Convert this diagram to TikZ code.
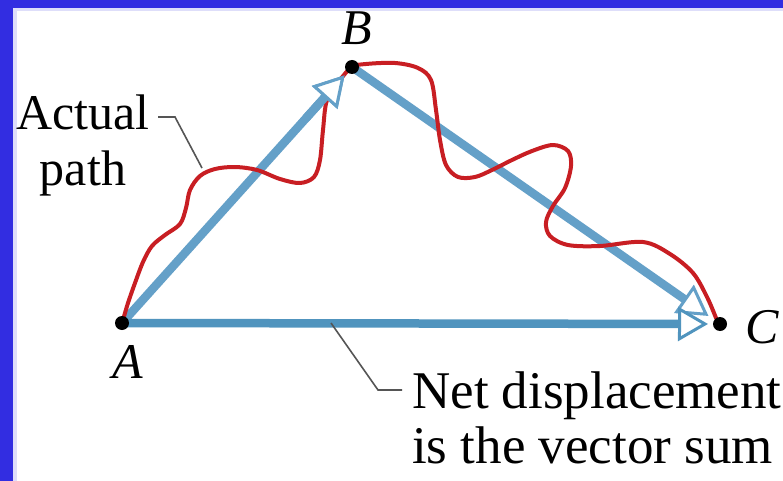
\documentclass[tikz,border=0pt]{standalone}
\usepackage{fontspec}
\setmainfont{Liberation Serif}
\usetikzlibrary{arrows.meta,calc}
\definecolor{vecblue}{RGB}{100,160,200}
\definecolor{vecbluedark}{RGB}{80,148,190}
\definecolor{pathred}{RGB}{200,30,35}
\definecolor{frameblue}{RGB}{50,45,225}
\definecolor{framelight}{RGB}{222,222,250}
\definecolor{leadergray}{RGB}{85,85,85}
\begin{document}
\begin{tikzpicture}[x=1pt,y=-1pt,
  vec/.style={draw=vecblue,line width=8.5pt,
    -{Triangle[length=30pt,width=34pt,line width=3pt,fill=white]}},
  actualpath/.style={draw=pathred,line width=4pt,line join=round,line cap=round},
  leader/.style={draw=leadergray,line width=1.6pt},
  dot/.style={circle,fill=black,inner sep=0pt,minimum size=14pt},
  txt/.style={inner sep=0pt,font=\fontsize{50}{55}\selectfont},
  txtb/.style={inner sep=0pt,font=\fontsize{53}{55}\selectfont},
  lbl/.style={inner sep=0pt,font=\fontsize{50}{55}\selectfont\itshape}]
\useasboundingbox (0,0) rectangle (783,481);
\fill[white] (0,0) rectangle (783,481);
% frame
\fill[framelight] (13,8) rectangle (783,11);
\fill[framelight] (13,8) rectangle (17,481);
\fill[frameblue] (0,0) rectangle (783,8);
\fill[frameblue] (0,0) rectangle (13,481);
% points
\coordinate (A) at (122,323);
\coordinate (B) at (352,67);
\coordinate (C) at (720,324);
% vectors
\draw[vec,shorten >=11pt] (A) -- (B);
\draw[vec,shorten >=14pt] (B) -- (C);
\draw[vec,draw=vecbluedark,shorten >=12pt] (A) -- (C);
% actual path
\draw[actualpath] plot[smooth,tension=0.55] coordinates {
 (123,320) (128,303) (135,283) (143,262) (152,246) (165,235) (180,224)
 (186,208) (190,190) (200,176) (215,169) (235,167) (257,170) (280,179)
 (300,183) (314,177) (320,160) (323,130) (327,100) (340,80) (352,67)
 (366,64) (395,63) (418,68) (431,80) (436,110) (440,140) (446,165)
 (458,177) (475,177) (492,170) (512,160) (532,151) (553,145) (568,151)
 (571,166) (565,188) (553,206) (546,222) (550,236) (568,245) (600,246)
 (643,242) (670,254) (693,273) (707,297) (716,318)};
% head of A->B on top of the path
\draw[vec,shorten >=11pt] ($(A)!0.8!(B)$) -- (B);
% dots
\node[dot] (dA) at (A) {};
\node[dot] (dB) at (B) {};
\node[dot] (dC) at (C) {};
% labels
\node[lbl,anchor=base] (labB) at (357,45) {B};
\node[lbl,anchor=base] (labA) at (128,378) {A};
\node[lbl,anchor=base west] (labC) at (745,343) {C};
% captions
\node[txt,anchor=base] (act1) at (83,130) {Actual};
\node[txt,anchor=base] (act2) at (83,185) {path};
\node[txtb,anchor=base west] (net1) at (412,408) {Net displacement};
\node[txtb,anchor=base west] (net2) at (412,463) {is the vector sum};
% leaders
\coordinate (la) at (158,117);
\coordinate (lb) at (175,117);
\coordinate (lc) at (202,168);
\draw[leader] (la) -- (lb) -- (lc);
\coordinate (na) at (331,323);
\coordinate (nb) at (378,390);
\coordinate (nc) at (402,390);
\draw[leader] (na) -- (nb) -- (nc);
\end{tikzpicture}
\end{document}
